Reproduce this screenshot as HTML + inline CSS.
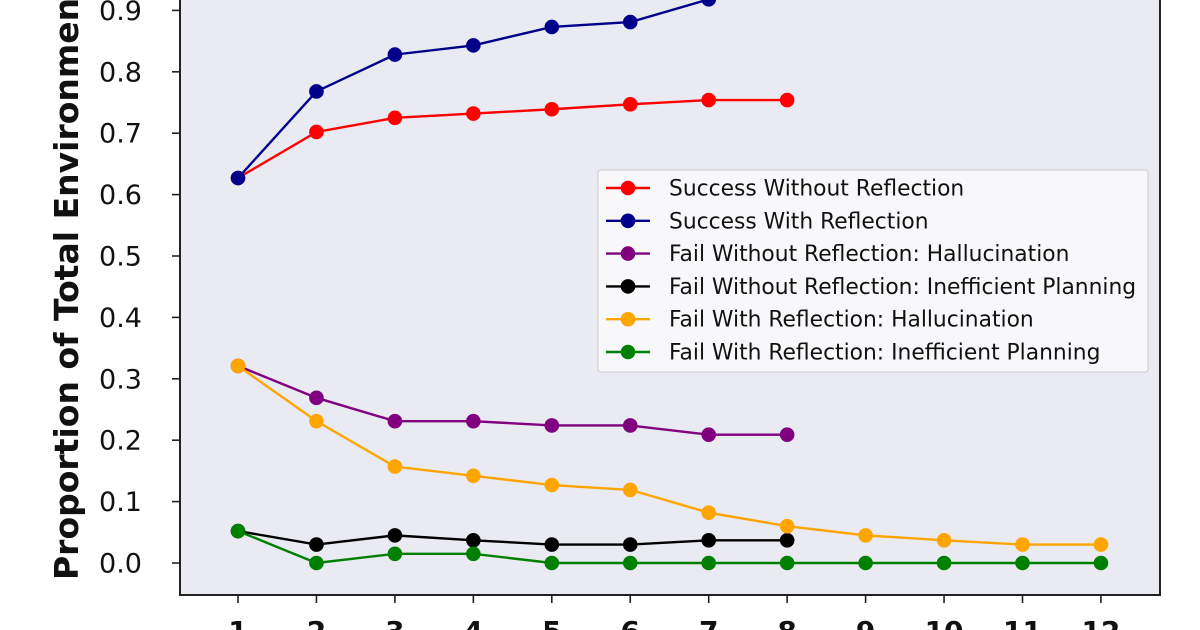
<!DOCTYPE html>
<html><head><meta charset="utf-8"><style>
html,body{margin:0;padding:0;background:#fff;}
svg{display:block;font-family:"DejaVu Sans","Liberation Sans",sans-serif;}
</style></head><body>
<svg id="s" width="1200" height="630" viewBox="0 0 1200 630" xmlns="http://www.w3.org/2000/svg">
<rect x="180" y="-20" width="980" height="615" fill="#eaeaf2" stroke="#222" stroke-width="2"/>
<g id="ticks" stroke="#222" stroke-width="1.6"></g>
<g id="yl" font-size="27" fill="#111" text-anchor="end"></g>
<g id="xl" font-size="28" font-weight="bold" fill="#111" text-anchor="middle"></g>
<text transform="translate(78,580) rotate(-90)" font-size="33" font-weight="bold" fill="#111">Proportion of Total Environments</text>
<g id="series"></g>
<g id="legend">
<rect x="598" y="170" width="550" height="202" rx="3" fill="#f8f8fb" stroke="#ccc" stroke-width="1"/>
</g>
</svg>
<script>
var ns="http://www.w3.org/2000/svg";
function el(p,t,a,txt){var e=document.createElementNS(ns,t);for(var k in a)e.setAttribute(k,a[k]);if(txt)e.textContent=txt;document.getElementById(p).appendChild(e);return e;}
function X(i){return 238+(i-1)*78.45;}
function Y(v){return 563-v*614;}
for(var i=0;i<=9;i++){var y=Y(i/10);el("ticks","line",{x1:172,x2:180,y1:y,y2:y});el("yl","text",{x:142,y:y+9.5},(i/10).toFixed(1));}
for(var i=1;i<=12;i++){var x=X(i);el("ticks","line",{x1:x,x2:x,y1:595,y2:603});el("xl","text",{x:x,y:641},String(i));}
var S=[
["#ff0000","Success Without Reflection",[.627,.702,.725,.732,.739,.747,.754,.754]],
["#00008b","Success With Reflection",[.627,.768,.828,.843,.873,.881,.918,.93]],
["#800080","Fail Without Reflection: Hallucination",[.321,.269,.231,.231,.224,.224,.209,.209]],
["#000000","Fail Without Reflection: Inefficient Planning",[.052,.03,.045,.037,.03,.03,.037,.037]],
["#ffa500","Fail With Reflection: Hallucination",[.321,.231,.157,.142,.127,.119,.082,.06,.045,.037,.03,.03]],
["#008000","Fail With Reflection: Inefficient Planning",[.052,0,.015,.015,0,0,0,0,0,0,0,0]]];
S.forEach(function(s,k){
 var pts=s[2].map(function(v,i){return X(i+1)+","+Y(v);}).join(" ");
 el("series","polyline",{points:pts,fill:"none",stroke:s[0],"stroke-width":2.4});
 s[2].forEach(function(v,i){el("series","circle",{cx:X(i+1),cy:Y(v),r:7.3,fill:s[0]});});
 var ly=188+k*32.8;
 el("legend","line",{x1:606,x2:650,y1:ly,y2:ly,stroke:s[0],"stroke-width":2.4});
 el("legend","circle",{cx:628,cy:ly,r:7.3,fill:s[0]});
 el("legend","text",{x:669,y:ly+7.5,"font-size":21.8,fill:"#111"},s[1]);
});
</script>
</body></html>
